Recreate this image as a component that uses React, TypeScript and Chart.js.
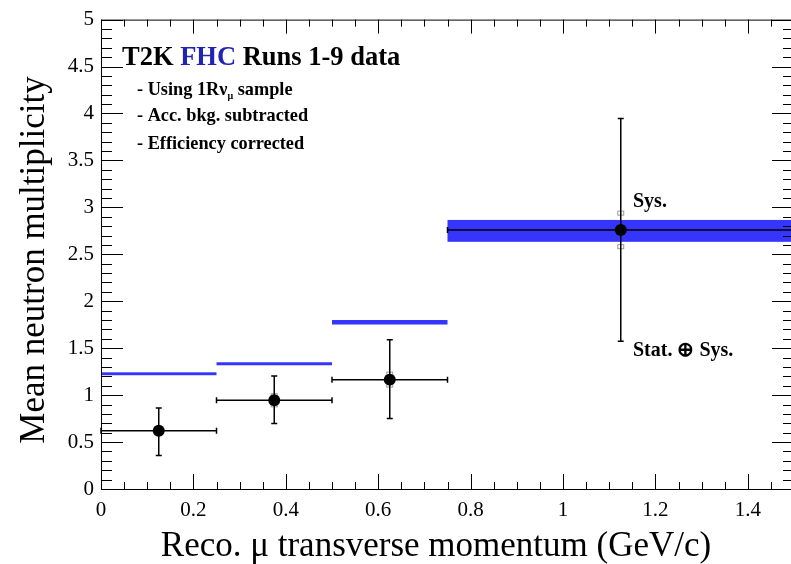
import React, { useEffect, useRef } from "react";
import { Chart, registerables } from "chart.js";

Chart.register(...registerables);

// ---- data ----
const binLow = [0, 0.25, 0.5, 0.75];
const binHigh = [0.25, 0.5, 0.75, 1.5];
const binCenter = [0.125, 0.375, 0.625, 1.125];
const meanMultiplicity = [0.62, 0.945, 1.165, 2.76];
const totalErrUp = [0.243, 0.258, 0.424, 1.186];
const totalErrDown = [0.262, 0.248, 0.415, 1.186];
const sysErr = [0.04, 0.07, 0.08, 0.2];
const bandLow = [1.212, 1.318, 1.752, 2.633];
const bandHigh = [1.243, 1.35, 1.8, 2.866];
const xTickValues = [0, 0.2, 0.4, 0.6, 0.8, 1, 1.2, 1.4];
const yTickValues = [0, 0.5, 1, 1.5, 2, 2.5, 3, 3.5, 4, 4.5, 5];

const SERIF = "'Liberation Serif', 'Times New Roman', serif";
const BAND = "#3535fb";

const rootPlugin = {
  id: "rootStyle",
  beforeDatasetsDraw(chart: any) {
    const { ctx } = chart;
    const xs = chart.scales.x;
    const ys = chart.scales.y;
    ctx.save();
    // systematic bands
    ctx.fillStyle = BAND;
    for (let i = 0; i < binLow.length; i++) {
      const x0 = xs.getPixelForValue(binLow[i]);
      const x1 = xs.getPixelForValue(binHigh[i]);
      const yt = ys.getPixelForValue(bandHigh[i]);
      const yb = ys.getPixelForValue(bandLow[i]);
      ctx.fillRect(x0, yt, x1 - x0, yb - yt);
    }
    // sys error marks (grey)
    ctx.strokeStyle = "#9a9a9a";
    ctx.lineWidth = 1;
    for (let i = 0; i < binLow.length; i++) {
      const xc = xs.getPixelForValue(binCenter[i]);
      const yTop = ys.getPixelForValue(meanMultiplicity[i] + sysErr[i]);
      const yBot = ys.getPixelForValue(meanMultiplicity[i] - sysErr[i]);
      ctx.strokeRect(xc - 3, yTop, 6, 4);
      ctx.strokeRect(xc - 3, yBot - 4, 6, 4);
    }
    // total error bars
    ctx.strokeStyle = "#000";
    ctx.lineWidth = 1.5;
    for (let i = 0; i < binLow.length; i++) {
      const x0 = xs.getPixelForValue(binLow[i]);
      const x1 = xs.getPixelForValue(binHigh[i]);
      const xc = xs.getPixelForValue(binCenter[i]);
      const yc = ys.getPixelForValue(meanMultiplicity[i]);
      const yTop = ys.getPixelForValue(meanMultiplicity[i] + totalErrUp[i]);
      const yBot = ys.getPixelForValue(meanMultiplicity[i] - totalErrDown[i]);
      ctx.beginPath();
      ctx.moveTo(x0, yc);
      ctx.lineTo(x1, yc);
      ctx.moveTo(x0, yc - 3);
      ctx.lineTo(x0, yc + 3);
      ctx.moveTo(x1, yc - 3);
      ctx.lineTo(x1, yc + 3);
      ctx.moveTo(xc, yTop);
      ctx.lineTo(xc, yBot);
      ctx.moveTo(xc - 3, yTop);
      ctx.lineTo(xc + 3, yTop);
      ctx.moveTo(xc - 3, yBot);
      ctx.lineTo(xc + 3, yBot);
      ctx.stroke();
    }
    ctx.restore();
  },
  afterDraw(chart: any) {
    const { ctx, chartArea } = chart;
    const xs = chart.scales.x;
    const ys = chart.scales.y;
    const { left, right, top, bottom } = chartArea;
    ctx.save();
    ctx.strokeStyle = "#000";
    ctx.lineWidth = 1;
    ctx.strokeRect(left + 0.5, top + 0.5, right - left, bottom - top);
    ctx.beginPath();
    // y ticks (left & right)
    for (let i = 0; i <= 50; i++) {
      const v = i / 10;
      const py = Math.round(ys.getPixelForValue(v)) + 0.5;
      const len = i % 5 === 0 ? 22 : 11;
      ctx.moveTo(left, py);
      ctx.lineTo(left + len, py);
      ctx.moveTo(right, py);
      ctx.lineTo(right - len, py);
    }
    // x ticks (bottom & top)
    for (let i = 0; i <= 30; i++) {
      const v = i * 0.05;
      const px = Math.round(xs.getPixelForValue(v)) + 0.5;
      const major = i % 4 === 0;
      ctx.moveTo(px, bottom);
      ctx.lineTo(px, bottom - (major ? 15 : 7));
      ctx.moveTo(px, top);
      ctx.lineTo(px, top + (major ? 14 : 7));
    }
    ctx.stroke();

    // axis titles
    ctx.fillStyle = "#000";
    ctx.font = `35px ${SERIF}`;
    ctx.textAlign = "center";
    ctx.textBaseline = "alphabetic";
    ctx.fillText("Reco. \u03bc transverse momentum (GeV/c)", 436, 556);
    ctx.save();
    ctx.translate(44, 260);
    ctx.rotate(-Math.PI / 2);
    ctx.fillText("Mean neutron multiplicity", 0, 0);
    ctx.restore();

    // legend-like text
    ctx.textAlign = "left";
    let x = 122;
    ctx.font = `bold 26.5px ${SERIF}`;
    const seg = (t: string, color: string) => {
      ctx.fillStyle = color;
      ctx.fillText(t, x, 65);
      x += ctx.measureText(t).width;
    };
    seg("T2K ", "#000");
    seg("FHC", "#2222b4");
    seg(" Runs 1-9 data", "#000");

    ctx.fillStyle = "#000";
    ctx.font = `bold 18.3px ${SERIF}`;
    let lx = 137;
    const t1 = "- Using 1R\u03bd";
    ctx.fillText(t1, lx, 95);
    lx += ctx.measureText(t1).width;
    ctx.font = `bold 10px ${SERIF}`;
    ctx.fillText("\u03bc", lx, 99);
    lx += ctx.measureText("\u03bc").width;
    ctx.font = `bold 18.3px ${SERIF}`;
    ctx.fillText(" sample", lx, 95);
    ctx.fillText("- Acc. bkg. subtracted", 137, 121);
    ctx.fillText("- Efficiency corrected", 137, 149);

    ctx.font = `bold 20px ${SERIF}`;
    ctx.fillText("Sys.", 633, 207);
    ctx.fillText("Stat. \u2295 Sys.", 633, 356);
    ctx.restore();
  },
};

export default function App() {
  const canvasRef = useRef<HTMLCanvasElement | null>(null);

  useEffect(() => {
    const canvas = canvasRef.current;
    if (!canvas) return;
    const chart = new Chart(canvas, {
      type: "scatter",
      data: {
        datasets: [
          {
            data: binCenter.map((xv, i) => ({ x: xv, y: meanMultiplicity[i] })),
            pointRadius: 6,
            pointHoverRadius: 6,
            backgroundColor: "#000",
            borderColor: "#000",
            borderWidth: 0,
          },
        ],
      },
      options: {
        animation: false,
        responsive: false,
        maintainAspectRatio: false,
        devicePixelRatio: 1,
        events: [],
        layout: { padding: { top: 18, right: 5, left: 0, bottom: 0 } },
        plugins: { legend: { display: false }, tooltip: { enabled: false } },
        scales: {
          x: {
            type: "linear",
            min: 0,
            max: 1.5,
            grid: { display: false, drawTicks: false },
            border: { display: false },
            afterBuildTicks: (s: any) => {
              s.ticks = xTickValues.map((v) => ({ value: v }));
            },
            afterFit: (s: any) => {
              s.height = 75;
            },
            ticks: {
              autoSkip: false,
              maxRotation: 0,
              padding: 9,
              color: "#000",
              font: { family: SERIF, size: 21 },
              callback: (v: any) => String(Math.round(Number(v) * 10) / 10),
            },
          },
          y: {
            type: "linear",
            min: 0,
            max: 5,
            grid: { display: false, drawTicks: false },
            border: { display: false },
            afterBuildTicks: (s: any) => {
              s.ticks = yTickValues.map((v) => ({ value: v }));
            },
            afterFit: (s: any) => {
              s.width = 101;
            },
            ticks: {
              autoSkip: false,
              padding: 7,
              color: "#000",
              font: { family: SERIF, size: 21 },
              callback: (v: any) => String(Math.round(Number(v) * 10) / 10),
            },
          },
        },
      },
      plugins: [rootPlugin],
    });
    return () => chart.destroy();
  }, []);

  return (
    <div
      style={{
        position: "fixed",
        left: 0,
        top: 0,
        width: 791,
        height: 564,
        overflow: "hidden",
        background: "#fff",
      }}
    >
      <canvas ref={canvasRef} width={800} height={564} style={{ display: "block" }} />
    </div>
  );
}
